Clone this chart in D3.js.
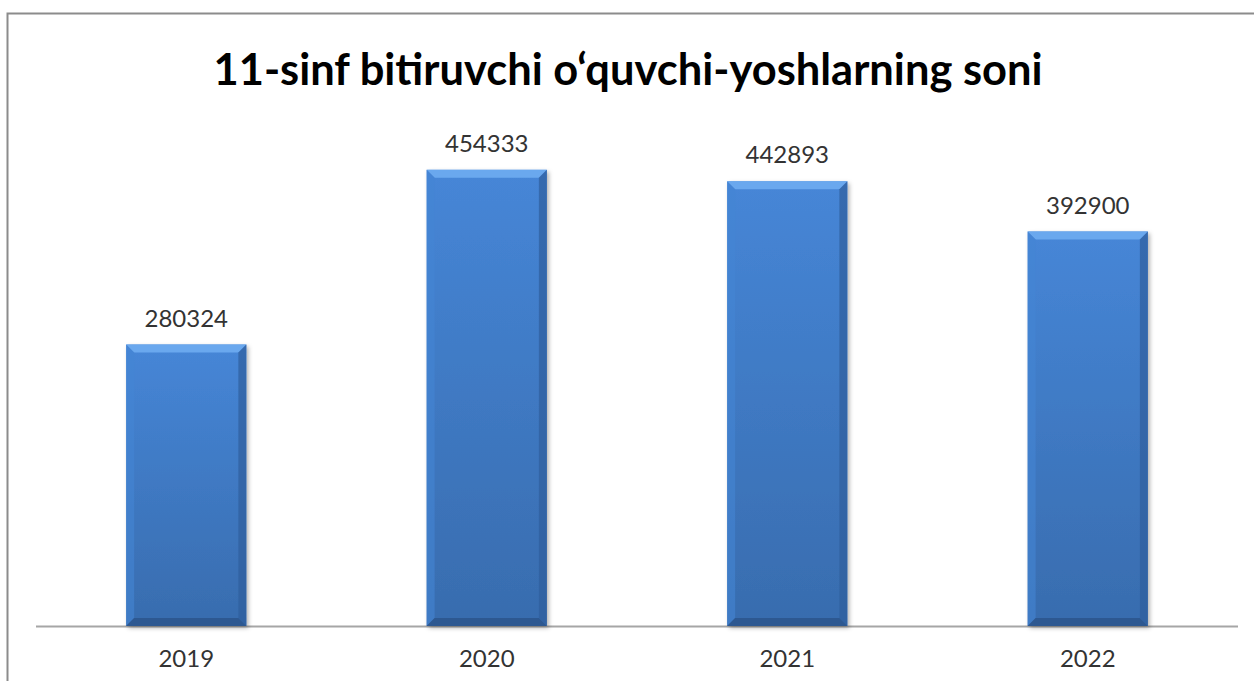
<!DOCTYPE html>
<html lang="en">
<head>
<meta charset="utf-8"/>
<script src="https://d3js.org/d3.v7.min.js"></script>
<style>
  body { margin: 0; background: #fff; }
</style>
</head>
<body>
<div id="chart"></div>
<script>
// data
var years = ["2019", "2020", "2021", "2022"];
var counts = [280324, 454333, 442893, 392900];
var titleText = "11-sinf bitiruvchi o\u2018quvchi-yoshlarning soni";

var W = 1254, H = 681;
var baseY = 626, topY = 124;

var svg = d3.select("#chart").append("svg")
    .attr("width", W)
    .attr("height", H);

var defs = svg.append("defs");
var g1 = defs.append("linearGradient").attr("id", "body").attr("x1", 0).attr("x2", 0).attr("y1", 0).attr("y2", 1);
g1.append("stop").attr("offset", "0%").attr("stop-color", "#4686d7");
g1.append("stop").attr("offset", "100%").attr("stop-color", "#386cae");

var sh = defs.append("filter").attr("id", "shadow").attr("x", "-10%").attr("y", "-10%").attr("width", "125%").attr("height", "125%");
sh.append("feDropShadow").attr("dx", 2).attr("dy", 2).attr("stdDeviation", 2).attr("flood-color", "#000").attr("flood-opacity", 0.3);

// chart border
svg.append("path")
    .attr("d", "M7.5," + H + " V13.5 H" + W)
    .attr("fill", "none")
    .attr("stroke", "#8c8c8c")
    .attr("stroke-width", 2);

// title
svg.append("text")
    .attr("x", 628)
    .attr("y", 85)
    .attr("text-anchor", "middle")
    .attr("font-family", "Lato, 'Open Sans', sans-serif")
    .attr("font-weight", "bold")
    .attr("font-size", 44)
    .attr("textLength", 829)
    .attr("lengthAdjust", "spacingAndGlyphs")
    .attr("fill", "#000")
    .text(titleText);

var x = d3.scaleBand()
    .domain(years)
    .range([36, 1238])
    .paddingInner(0.6)
    .paddingOuter(0.3);

var y = d3.scaleLinear()
    .domain([0, 500000])
    .range([baseY, topY]);

// axis line
svg.append("line")
    .attr("x1", 36).attr("x2", 1238)
    .attr("y1", baseY + 0.5).attr("y2", baseY + 0.5)
    .attr("stroke", "#a6a6a6")
    .attr("stroke-width", 2);

var bars = svg.selectAll(".bar")
    .data(years.map(function(d, i) { return {year: d, value: counts[i]}; }))
    .enter().append("g")
    .attr("class", "bar");

var bv = 8;

bars.append("rect")
    .attr("x", function(d) { return x(d.year); })
    .attr("y", function(d) { return y(d.value); })
    .attr("width", x.bandwidth())
    .attr("height", function(d) { return baseY - y(d.value); })
    .attr("fill", "url(#body)")
    .attr("filter", "url(#shadow)");

// top bevel
bars.append("polygon")
    .attr("points", function(d) {
        var x0 = x(d.year), x1 = x0 + x.bandwidth(), t = y(d.value);
        return [[x0, t], [x1, t], [x1 - bv, t + bv], [x0 + bv, t + bv]].join(" ");
    })
    .attr("fill", "#6aa8ee");
// left bevel
bars.append("polygon")
    .attr("points", function(d) {
        var x0 = x(d.year), t = y(d.value);
        return [[x0, t], [x0 + bv, t + bv], [x0 + bv, baseY - bv], [x0, baseY]].join(" ");
    })
    .attr("fill", "#4585d4")
    .attr("opacity", 0.6);
// right bevel
bars.append("polygon")
    .attr("points", function(d) {
        var x1 = x(d.year) + x.bandwidth(), t = y(d.value);
        return [[x1, t], [x1 - bv, t + bv], [x1 - bv, baseY - bv], [x1, baseY]].join(" ");
    })
    .attr("fill", "#2f5e9c")
    .attr("opacity", 0.7);
// bottom bevel
bars.append("polygon")
    .attr("points", function(d) {
        var x0 = x(d.year), x1 = x0 + x.bandwidth();
        return [[x0, baseY], [x1, baseY], [x1 - bv, baseY - bv], [x0 + bv, baseY - bv]].join(" ");
    })
    .attr("fill", "#2d5891");

// value labels
bars.append("text")
    .attr("x", function(d) { return x(d.year) + x.bandwidth() / 2; })
    .attr("y", function(d) { return y(d.value) - 18; })
    .attr("text-anchor", "middle")
    .attr("font-family", "Lato, 'Open Sans', sans-serif")
    .attr("font-size", 24)
    .attr("fill", "#333")
    .text(function(d) { return d.value; });

// category labels
bars.append("text")
    .attr("x", function(d) { return x(d.year) + x.bandwidth() / 2; })
    .attr("y", 667)
    .attr("text-anchor", "middle")
    .attr("font-family", "Lato, 'Open Sans', sans-serif")
    .attr("font-size", 24)
    .attr("fill", "#333")
    .text(function(d) { return d.year; });
</script>
</body>
</html>
